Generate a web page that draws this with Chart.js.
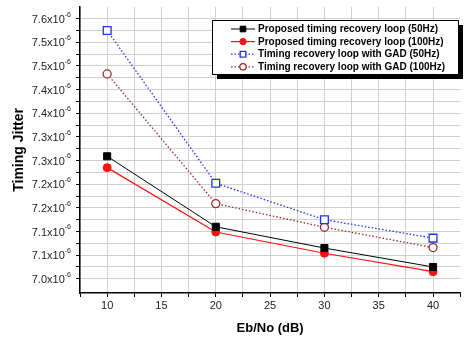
<!DOCTYPE html>
<html>
<head>
<meta charset="utf-8">
<script src="https://cdn.jsdelivr.net/npm/chart.js@4.4.1/dist/chart.umd.min.js"></script>
<style>
  body { margin: 0; background: #fff; }
  canvas { display: block; }
</style>
</head>
<body>
<canvas id="myChart" width="467" height="339"></canvas>
<script>
// Eb/No in dB, jitter values in units of 10^-6
let ebno = [10, 20, 30, 40];
let proposed50 = [7.259, 7.110, 7.065, 7.025];
let proposed100 = [7.235, 7.099, 7.054, 7.015];
let gad50 = [7.525, 7.202, 7.125, 7.086];
let gad100 = [7.433, 7.159, 7.109, 7.066];
let seriesNames = [
  'Proposed timing recovery loop (50Hz)',
  'Proposed timing recovery loop (100Hz)',
  'Timing recovery loop with GAD (50Hz)',
  'Timing recovery loop with GAD (100Hz)'
];
let xTickLabels = [10, 15, 20, 25, 30, 35, 40];
let yTickValues = [7.00, 7.05, 7.10, 7.15, 7.20, 7.25, 7.30, 7.35, 7.40, 7.45, 7.50, 7.55];

const FONT = "'Liberation Sans', Arial, sans-serif";

function pts(ys) {
  return ys.map((y, i) => ({ x: ebno[i], y: y }));
}

// y tick labels like 7.6x10^-6, drawn with a real superscript
const yLabelPlugin = {
  id: 'yLabels',
  afterDraw(chart) {
    const ctx = chart.ctx;
    const y = chart.scales.y;
    const right = chart.chartArea.left - 9;
    ctx.save();
    ctx.fillStyle = '#222';
    ctx.textBaseline = 'middle';
    yTickValues.forEach(v => {
      const py = y.getPixelForValue(v);
      const base = (Math.round(v * 10 + 1e-6) / 10).toFixed(1) + 'x10';
      const exp = '-6';
      ctx.font = '11px ' + FONT;
      const wb = ctx.measureText(base).width;
      ctx.font = '7px ' + FONT;
      const we = ctx.measureText(exp).width;
      const x0 = right - wb - we;
      ctx.font = '11px ' + FONT;
      ctx.textAlign = 'left';
      ctx.fillText(base, x0, py + 1);
      ctx.font = '7px ' + FONT;
      ctx.fillText(exp, x0 + wb, py - 4);
    });
    ctx.restore();
  }
};

// boxed legend with a drop shadow
const boxLegend = {
  id: 'boxLegend',
  afterDraw(chart) {
    const ctx = chart.ctx;
    const bx = 212, by = 20, bw = 246, bh = 54;
    ctx.save();
    ctx.fillStyle = '#000';
    ctx.fillRect(bx + 5, by + 5, bw, bh);
    ctx.fillStyle = '#fff';
    ctx.fillRect(bx, by, bw, bh);
    ctx.strokeStyle = '#000';
    ctx.lineWidth = 1;
    ctx.strokeRect(bx + 0.5, by + 0.5, bw, bh);
    chart.data.datasets.forEach((ds, i) => {
      const cy = by + 9 + i * 12.6;
      ctx.save();
      ctx.strokeStyle = ds.borderColor;
      ctx.lineWidth = ds.borderWidth;
      ctx.setLineDash(ds.borderDash || []);
      ctx.beginPath();
      ctx.moveTo(bx + 19, cy);
      ctx.lineTo(bx + 43, cy);
      ctx.stroke();
      ctx.restore();
      ctx.save();
      ctx.fillStyle = ds.pointBackgroundColor;
      ctx.strokeStyle = ds.pointBorderColor;
      ctx.lineWidth = ds.pointBorderWidth;
      Chart.helpers.drawPoint(ctx, {
        pointStyle: ds.pointStyle,
        radius: ds.pointStyle === 'rect' ? 4 : 3.2,
        rotation: 0,
        borderWidth: ds.pointBorderWidth
      }, bx + 31, cy);
      ctx.restore();
      ctx.fillStyle = '#000';
      ctx.font = 'bold 10px ' + FONT;
      ctx.textAlign = 'left';
      ctx.textBaseline = 'middle';
      ctx.fillText(ds.label, bx + 46, cy + 0.5);
    });
    ctx.restore();
  }
};

const ctx = document.getElementById('myChart').getContext('2d');
const myChart = new Chart(ctx, {
  type: 'line',
  data: {
    datasets: [
      {
        label: seriesNames[0], data: pts(proposed50),
        borderColor: '#000', borderWidth: 1,
        pointStyle: 'rect', pointRadius: 5, pointBackgroundColor: '#000',
        pointBorderColor: '#000', pointBorderWidth: 1
      },
      {
        label: seriesNames[1], data: pts(proposed100),
        borderColor: '#ff1010', borderWidth: 1.2,
        pointStyle: 'circle', pointRadius: 4, pointBackgroundColor: '#ff1010',
        pointBorderColor: '#ff1010', pointBorderWidth: 1
      },
      {
        label: seriesNames[2], data: pts(gad50),
        borderColor: '#2030f0', borderWidth: 1.3, borderDash: [1.5, 2],
        pointStyle: 'rect', pointRadius: 5.5, pointBackgroundColor: '#fff',
        pointBorderColor: '#2030f0', pointBorderWidth: 1.3
      },
      {
        label: seriesNames[3], data: pts(gad100),
        borderColor: '#9a2a2a', borderWidth: 1.3, borderDash: [1.5, 2],
        pointStyle: 'circle', pointRadius: 4, pointBackgroundColor: '#fff',
        pointBorderColor: '#9a2a2a', pointBorderWidth: 1.3
      }
    ]
  },
  options: {
    responsive: false,
    animation: false,
    layout: { padding: { top: 5, right: 0, left: 0, bottom: 0 } },
    plugins: {
      legend: { display: false },
      tooltip: { enabled: false }
    },
    scales: {
      x: {
        type: 'linear',
        min: 7.5,
        max: 42.5,
        afterBuildTicks: (scale) => {
          const t = [];
          for (let i = 0; i <= 14; i++) t.push({ value: 7.5 + i * 2.5 });
          scale.ticks = t;
        },
        afterFit: (scale) => { scale.height = 46; },
        ticks: {
          autoSkip: false,
          maxRotation: 0,
          padding: 2,
          color: '#222',
          font: { family: FONT, size: 11 },
          callback: (v) => xTickLabels.includes(v) ? String(v) : ''
        },
        grid: {
          color: (c) => (c.tick && c.tick.value > 42) ? 'rgba(0,0,0,0)' : '#cfcfcf',
          lineWidth: 1, tickColor: '#000', tickLength: 4
        },
        border: { color: '#000', width: 1.5 },
        title: {
          display: true,
          text: 'Eb/No (dB)',
          color: '#000',
          font: { family: FONT, size: 13, weight: 'bold' },
          padding: { top: 0, bottom: 3 }
        }
      },
      y: {
        min: 6.97,
        max: 7.575,
        afterBuildTicks: (scale) => {
          const t = [];
          for (let i = 0; i <= 22; i++) t.push({ value: 7.0 + i * 0.025 });
          scale.ticks = t;
        },
        afterFit: (scale) => { scale.width = 80; },
        ticks: { display: false },
        grid: { color: '#cfcfcf', lineWidth: 1, tickColor: '#000', tickLength: 4 },
        border: { color: '#000', width: 1.5 },
        title: {
          display: true,
          text: 'Timing Jitter',
          color: '#000',
          font: { family: FONT, size: 14, weight: 'bold' },
          padding: { top: 11, bottom: 0 }
        }
      }
    }
  },
  plugins: [yLabelPlugin, boxLegend]
});
</script>
</body>
</html>
